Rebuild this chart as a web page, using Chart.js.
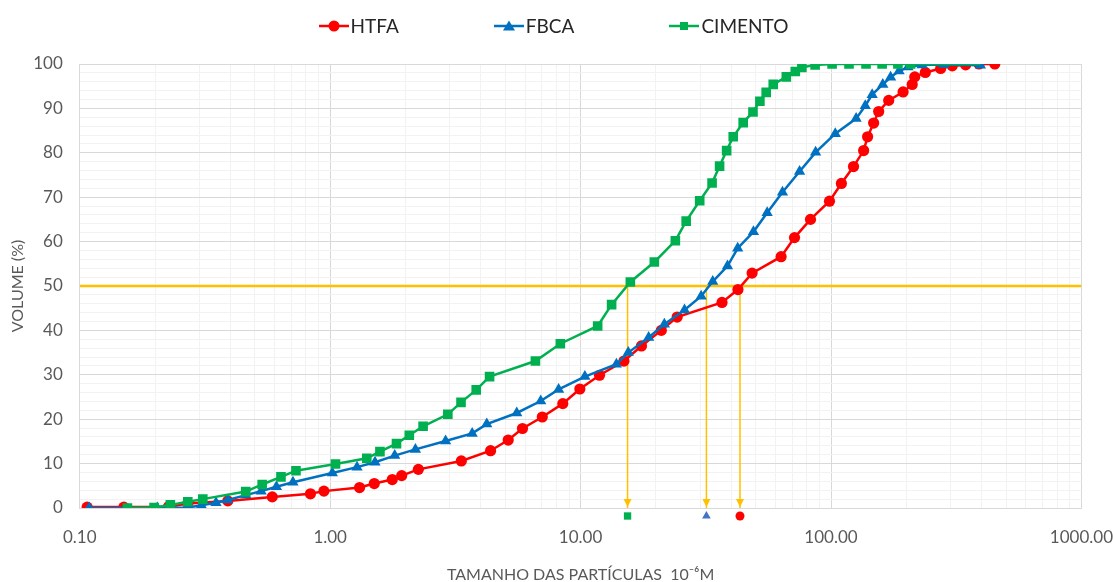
<!DOCTYPE html>
<html>
<head>
<meta charset="utf-8">
<title>Distribuição granulométrica</title>
<script src="https://cdn.jsdelivr.net/npm/chart.js@4.4.1/dist/chart.umd.min.js"></script>
<style>
  html, body { margin: 0; padding: 0; background: #fff; }
  #wrap { position: relative; width: 1113px; height: 582px; }
  #legend {
    position: absolute; top: 14px; left: -3px; width: 1113px;
    display: flex; justify-content: center; gap: 95px;
    font-family: Lato, "Open Sans", sans-serif; font-size: 19px; color: #262626;
  }
  .item { display: flex; align-items: center; }
  .item svg { margin-right: 2px; }
</style>
</head>
<body>
<div id="wrap">
  <canvas id="chart" width="1113" height="582"></canvas>
  <div id="legend"></div>
</div>
<script>
// particle size (µm) and cumulative volume (%)
const htfaSize = [0.107, 0.15, 0.226, 0.27, 0.39, 0.587, 0.834, 0.944, 1.31, 1.5, 1.77, 1.93, 2.25,
  3.34, 4.37, 5.14, 5.86, 7.03, 8.49, 9.93, 11.9, 14.9, 17.5, 21.0, 24.3, 36.7, 42.5, 48.4,
  63.2, 71.5, 82.8, 98.6, 110, 123, 135, 140, 148, 155, 170, 194, 211, 216, 238, 274, 305, 345, 390, 451];
const htfaVolume = [0.2, 0.2, 0.3, 1.0, 1.6, 2.5, 3.2, 3.8, 4.6, 5.5, 6.4, 7.3, 8.7,
  10.6, 12.9, 15.3, 17.9, 20.5, 23.5, 26.8, 29.9, 33.1, 36.5, 40.0, 43.0, 46.3, 49.2, 52.9,
  56.6, 60.9, 65.0, 69.1, 73.1, 76.9, 80.5, 83.6, 86.7, 89.3, 91.8, 93.7, 95.4, 97.1, 98.1, 99.0, 99.6, 99.8, 100, 100];

const fbcaSize = [0.109, 0.204, 0.27, 0.306, 0.35, 0.39, 0.46, 0.53, 0.61, 0.71, 1.02, 1.28, 1.51,
  1.81, 2.19, 2.89, 3.69, 4.22, 5.56, 6.93, 8.17, 10.4, 13.9, 15.5, 18.7, 21.6, 26.0, 30.3,
  33.7, 38.6, 42.4, 49.0, 55.6, 64.0, 74.9, 86.8, 104, 126, 137, 146, 161, 173, 187, 203, 231, 282, 395];
const fbcaVolume = [0, 0, 0.1, 0.6, 1.2, 1.8, 2.9, 3.8, 4.8, 5.8, 7.9, 9.2, 10.3,
  11.8, 13.2, 15.1, 16.8, 18.9, 21.4, 24.1, 26.7, 29.6, 32.4, 35.0, 38.4, 41.4, 44.6, 47.7,
  51.0, 54.5, 58.5, 62.2, 66.5, 71.1, 75.8, 80.1, 84.3, 87.7, 90.6, 93.1, 95.4, 97.0, 98.4, 99.3, 99.8, 99.9, 99.7];

const cimentoSize = [0.155, 0.198, 0.23, 0.27, 0.31, 0.46, 0.535, 0.636, 0.73, 1.05, 1.4, 1.58, 1.84,
  2.07, 2.35, 2.95, 3.33, 3.83, 4.33, 6.6, 8.3, 11.7, 13.3, 15.8, 19.7, 23.9, 26.4, 29.9,
  33.5, 35.9, 38.3, 40.7, 44.6, 48.8, 52.0, 55.1, 58.8, 66.3, 72.0, 76.5, 86.4, 101, 118, 138, 160, 185, 208, 395];
const cimentoVolume = [0, 0.1, 0.7, 1.4, 2.0, 3.7, 5.3, 7.0, 8.4, 9.9, 11.2, 12.7, 14.5,
  16.4, 18.4, 21.1, 23.8, 26.6, 29.6, 33.1, 37.0, 41.0, 45.8, 50.9, 55.4, 60.2, 64.6, 69.2,
  73.2, 77.0, 80.5, 83.6, 86.8, 89.2, 91.6, 93.6, 95.4, 97.1, 98.3, 99.2, 99.8, 100, 100, 100, 100, 100, 100, 100];

// D50 read on the 50 % line: HTFA, FBCA, CIMENTO
const d50Size = [43.3, 31.8, 15.4];
const d50Level = 50;

const xTickLabels = [0.1, 1, 10, 100, 1000];
const xMin = 0.1, xMax = 1000;

const RED = '#FF0000', BLUE = '#0070C0', GREEN = '#00B050', GOLD = '#FFC000';
const markColors = [RED, '#4472C4', GREEN];
const markStyles = ['circle', 'triangle', 'rect'];
const markRadius = [4.5, 5, 5.2];
const markY = -1.8;

const pts = (xs, ys) => xs.map((x, i) => ({x: x, y: ys[i]}));
const isDecade = v => Math.abs(Math.log10(v) - Math.round(Math.log10(v))) < 1e-6;

// legend in html, line with marker like the spreadsheet
const legendItems = [
  {label: 'HTFA', color: RED, shape: '<circle cx="15" cy="7" r="5.5"/>'},
  {label: 'FBCA', color: BLUE, shape: '<polygon points="15,1.5 21,11.5 9,11.5"/>'},
  {label: 'CIMENTO', color: GREEN, shape: '<rect x="11" y="3" width="8" height="8"/>'}
];
document.getElementById('legend').innerHTML = legendItems.map(it =>
  `<div class="item"><svg width="30" height="14" fill="${it.color}">
     <line x1="0" y1="7" x2="30" y2="7" stroke="${it.color}" stroke-width="2.5"/>${it.shape}</svg>${it.label}</div>`
).join('');

const series = (label, data, color, style, radius, order) => ({
  label, data, order,
  borderColor: color, backgroundColor: color, borderWidth: 2.5,
  pointStyle: style, pointRadius: radius, pointBorderWidth: 0, pointHoverRadius: radius
});

const datasets = [
  series('HTFA', pts(htfaSize, htfaVolume), RED, 'circle', 5.6, 3),
  series('FBCA', pts(fbcaSize, fbcaVolume), BLUE, 'triangle', 6.5, 2),
  series('CIMENTO', pts(cimentoSize, cimentoVolume), GREEN, 'rect', 6.8, 1),
  {
    label: 'D50', data: [{x: xMin, y: d50Level}, {x: xMax, y: d50Level}],
    borderColor: GOLD, borderWidth: 2.5, pointRadius: 0, order: 10
  }
];
d50Size.forEach(d => datasets.push({
  label: 'seta', data: [{x: d, y: d50Level}, {x: d, y: 0}], arrowHead: true,
  borderColor: GOLD, borderWidth: 1.5, pointRadius: 0, order: 10
}));
// last CIMENTO point sits under the FBCA triangle, no marker there
datasets[2].pointRadius = ctx => ctx.dataIndex === cimentoSize.length - 1 ? 0 : 6.8;

const d50Marks = {
  id: 'd50Marks',
  afterDatasetsDraw(chart) {
    const {ctx, scales: {x, y}} = chart;
    ctx.save();
    chart.data.datasets.forEach((ds, i) => {
      if (!ds.arrowHead) return;
      const els = chart.getDatasetMeta(i).data;
      const tip = els[els.length - 1];
      ctx.fillStyle = ds.borderColor;
      ctx.beginPath();
      ctx.moveTo(tip.x, tip.y - 1);
      ctx.lineTo(tip.x - 4, tip.y - 9);
      ctx.lineTo(tip.x + 4, tip.y - 9);
      ctx.closePath();
      ctx.fill();
    });
    d50Size.forEach((d, i) => {
      ctx.fillStyle = markColors[i];
      Chart.helpers.drawPoint(ctx,
        {pointStyle: markStyles[i], radius: markRadius[i], rotation: 0, borderWidth: 0},
        x.getPixelForValue(d), y.getPixelForValue(markY));
    });
    ctx.restore();
  }
};

const tickFont = {family: 'Lato', size: 17};
const titleFont = {family: 'Lato', size: 16};

new Chart(document.getElementById('chart'), {
  type: 'line',
  data: {datasets},
  plugins: [d50Marks],
  options: {
    responsive: false,
    animation: false,
    devicePixelRatio: 1,
    layout: {padding: {top: 64, left: 8, right: 0, bottom: 0}},
    plugins: {legend: {display: false}, tooltip: {enabled: false}},
    scales: {
      x: {
        type: 'logarithmic', min: xMin, max: xMax,
        afterBuildTicks: scale => {
          scale.ticks = scale.ticks.filter(t => {
            const m = t.value / Math.pow(10, Math.floor(Math.log10(t.value) + 1e-9));
            return Math.abs(m - Math.round(m)) < 1e-6;
          });
        },
        ticks: {
          autoSkip: false, maxRotation: 0, padding: 0, color: '#595959', font: tickFont,
          callback: v => xTickLabels.some(t => Math.abs(t - v) / t < 1e-6) ? Number(v).toFixed(2) : ''
        },
        grid: {
          tickLength: 19, tickColor: 'rgba(0,0,0,0)',
          color: c => c.tick && isDecade(c.tick.value) ? '#D9D9D9' : '#F2F2F2'
        },
        border: {color: '#D9D9D9'},
        title: {display: true, text: 'TAMANHO DAS PARTÍCULAS  10⁻⁶M', color: '#595959', font: titleFont,
                padding: {top: 17.4, bottom: -2}}
      },
      y: {
        min: 0, max: 100,
        ticks: {
          stepSize: 2, autoSkip: false, padding: 0, color: '#595959', font: tickFont,
          callback: v => v % 10 === 0 ? v : ''
        },
        grid: {
          tickLength: 17, tickColor: 'rgba(0,0,0,0)',
          color: c => c.tick && c.tick.value % 10 === 0 ? '#D9D9D9' : '#F2F2F2'
        },
        border: {color: '#D9D9D9'},
        title: {display: true, text: 'VOLUME (%)', color: '#595959', font: titleFont,
                padding: {top: 0, bottom: 6}}
      }
    }
  }
});
</script>
</body>
</html>
